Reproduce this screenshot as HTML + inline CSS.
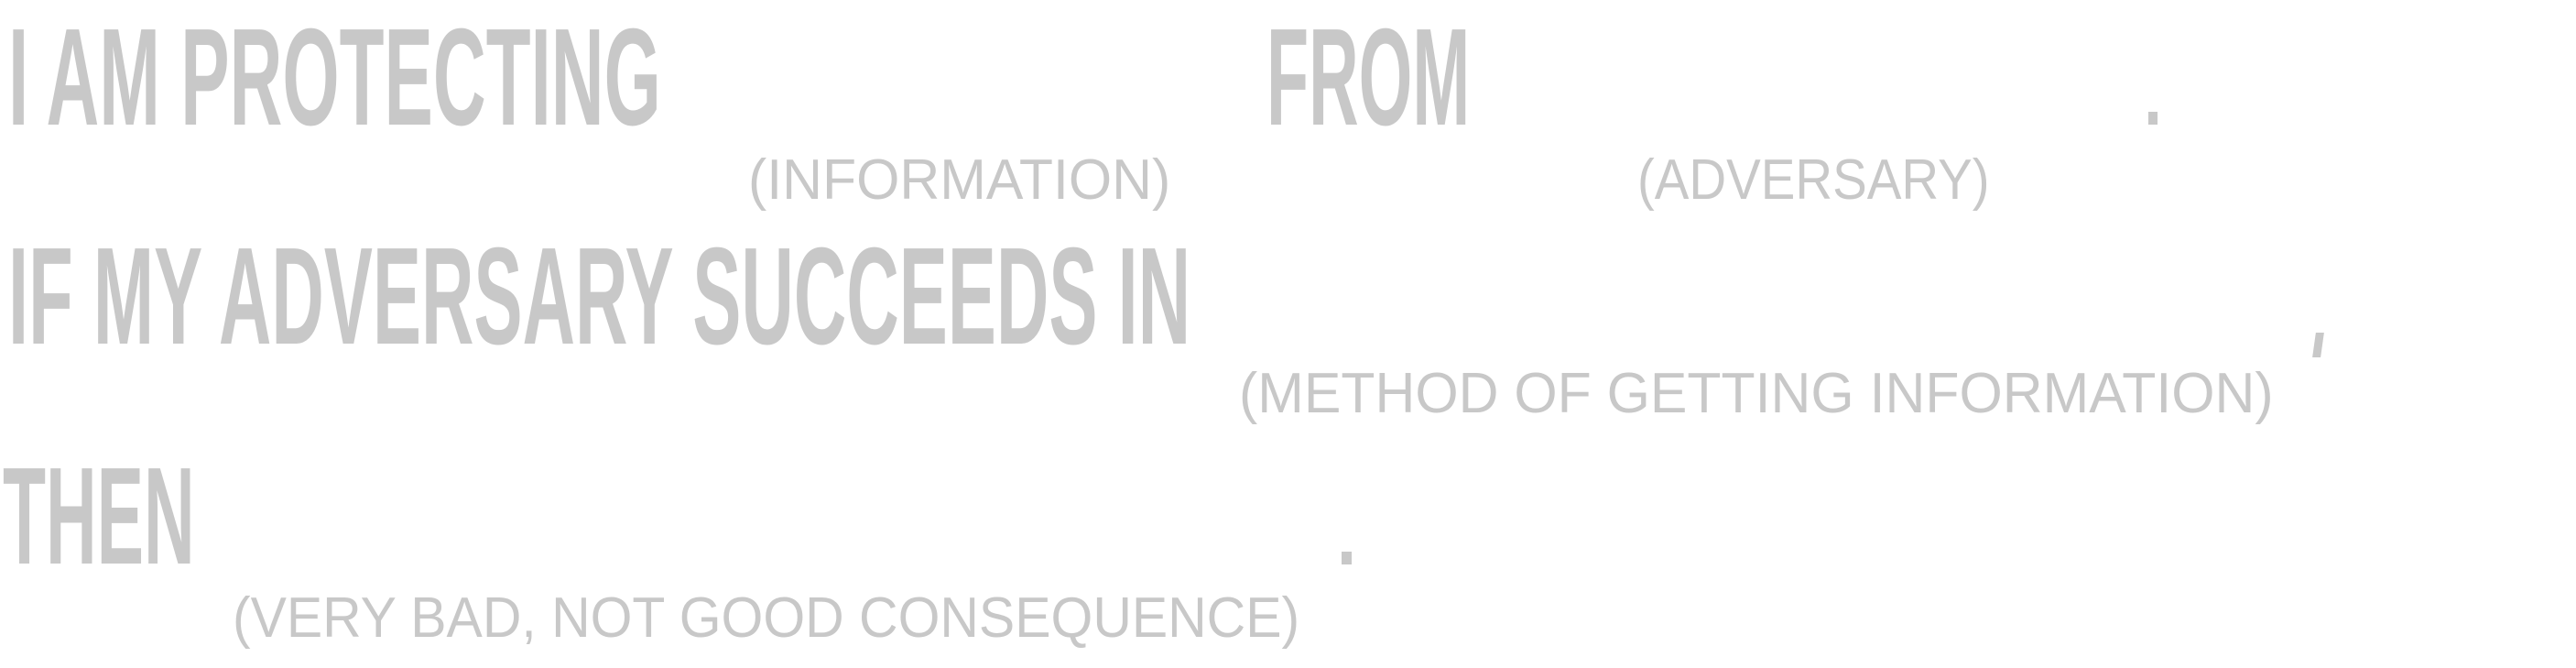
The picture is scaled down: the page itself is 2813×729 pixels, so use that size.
<!DOCTYPE html>
<html><head><meta charset="utf-8"><style>
html,body{margin:0;padding:0;background:#fff;}
body{width:2813px;height:729px;position:relative;overflow:hidden;}
.t{position:absolute;white-space:nowrap;color:#c8c8c8;font-family:"Liberation Sans",sans-serif;line-height:1;transform-origin:0 0;}
.big{font-size:151px;font-weight:bold;}
.sm{font-size:62px;}
.r{position:absolute;background:#c8c8c8;}
</style></head><body>
<div class="t big" style="left:9px;top:8px;transform:scaleX(0.53)">I AM PROTECTING</div>
<div class="t big" style="left:1383px;top:8px;transform:scaleX(0.5)">FROM</div>
<div class="r" style="left:2346px;top:122px;width:10px;height:14px"></div>
<div class="t sm" style="left:817px;top:166px;transform:scaleX(0.98)">(INFORMATION)</div>
<div class="t sm" style="left:1788px;top:166px;transform:scaleX(0.91)">(ADVERSARY)</div>

<div class="t big" style="left:9px;top:247px;transform:scaleX(0.527)">IF MY ADVERSARY SUCCEEDS IN</div>
<div class="r" style="left:2527px;top:363px;width:9px;height:27px;transform:skewX(-8deg)"></div>
<div class="t sm" style="left:1353px;top:399px;transform:scaleX(0.98)">(METHOD OF GETTING INFORMATION)</div>

<div class="t big" style="left:3px;top:487px;transform:scaleX(0.51)">THEN</div>
<div class="r" style="left:1465px;top:602px;width:11px;height:14px"></div>
<div class="t sm" style="left:254px;top:644px;transform:scaleX(0.95)">(VERY BAD, NOT GOOD CONSEQUENCE)</div>
</body></html>
